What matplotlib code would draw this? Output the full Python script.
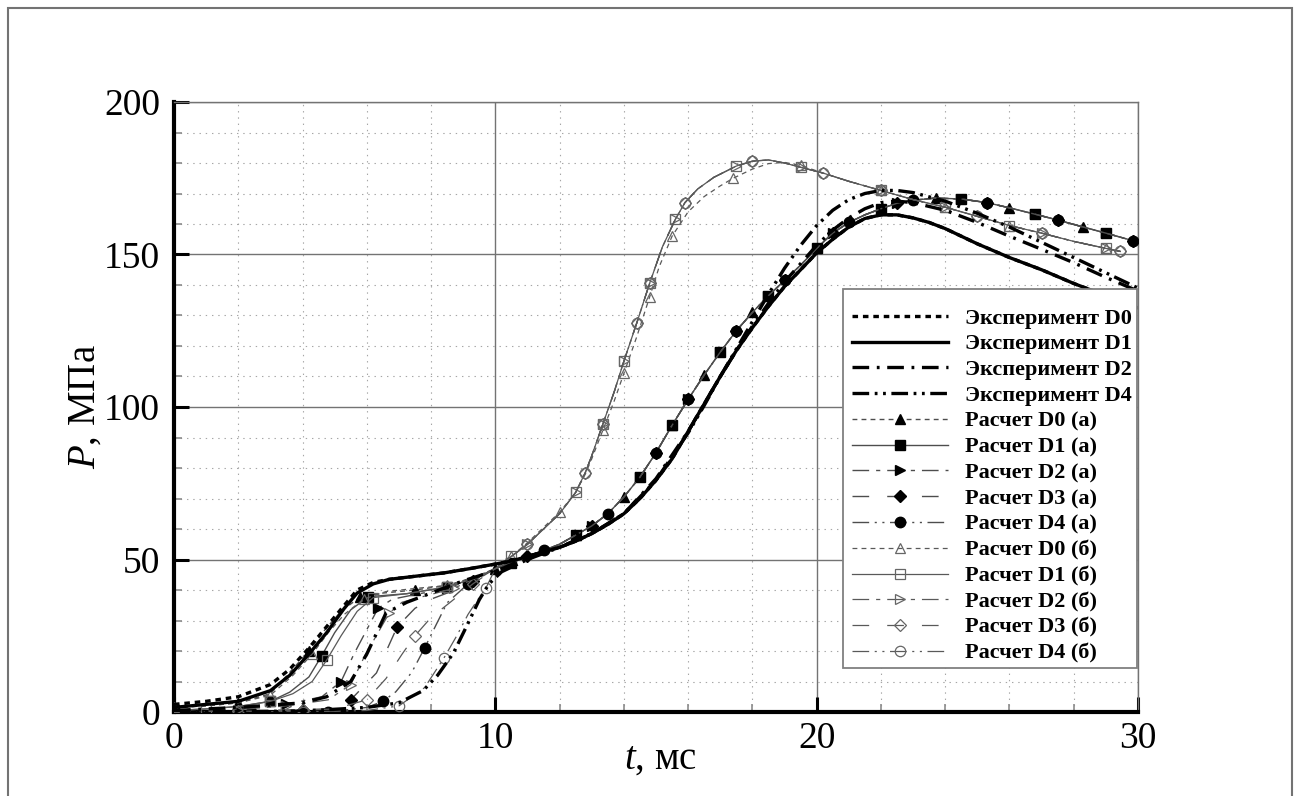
import matplotlib
matplotlib.use("Agg")
import matplotlib.pyplot as plt
from matplotlib.patches import Rectangle
from matplotlib.ticker import MultipleLocator

plt.rcParams['font.family'] = ['Liberation Serif', 'DejaVu Serif']
plt.rcParams['mathtext.fontset'] = 'custom'
plt.rcParams['mathtext.rm'] = 'Liberation Serif'
plt.rcParams['mathtext.it'] = 'Liberation Serif:italic'
plt.rcParams['lines.scale_dashes'] = False

# ---------------- experiment: ignition phase (t, ms ; P, MPa) ----------------
exp_d0_t_early = [0, 1, 2, 3, 3.6, 4.2, 4.75, 5.3, 5.7, 6.2, 6.7, 7.5, 8.4, 9.2]
exp_d0_p_early = [2.5, 3.5, 5.0, 9.0, 14.0, 21.0, 28.0, 35.0, 40.0, 42.5, 43.5, 44.5, 45.6, 47.0]
exp_d1_t_early = [0, 1, 2, 3, 3.6, 4.2, 4.75, 5.3, 5.7, 6.2, 6.7, 7.5, 8.4, 9.2]
exp_d1_p_early = [1.5, 2.5, 3.5, 7.0, 12.0, 19.0, 26.0, 34.0, 39.0, 42.0, 43.5, 44.5, 45.6, 47.0]
exp_d2_t_early = [0, 2, 4, 4.75, 5.5, 6.0, 6.6, 7.25, 8.0, 9.0]
exp_d2_p_early = [0.5, 1.5, 3.0, 5.0, 10.0, 19.0, 32.5, 36.0, 39.0, 43.0]
exp_d4_t_early = [0, 4, 6, 7, 7.75, 8.2, 8.7, 9.1, 9.5, 9.8]
exp_d4_p_early = [0, 0.3, 1.5, 3.0, 7.0, 12.0, 19.4, 28.0, 36.8, 42.0]

# ---------------- experiment: main combustion phase ----------------
exp_d01_t_late = [10.0, 10.5, 11, 11.5, 12, 12.5, 13, 13.5, 14, 14.5, 15, 15.5, 16, 16.5, 17,
                  17.5, 18, 18.5, 19, 19.5, 20, 20.5, 21, 21.5, 22, 22.5, 23, 23.5, 24, 25,
                  26, 27, 28, 29, 30]
exp_d01_p_late = [48.5, 49.5, 51, 52.5, 54, 56, 58.5, 61.5, 65, 70, 76, 83, 92, 101, 110,
                  118.5, 126, 133, 139.5, 145, 150.5, 155, 159, 161.8, 163, 163, 162, 160.5,
                  158.5, 153.5, 149, 145, 140.5, 136.5, 132.5]
exp_d2_t_late = [10.2, 11, 12, 13, 14, 15, 16, 16.5, 17, 17.5, 18, 18.5, 19, 19.5, 20, 20.5,
                 21, 21.5, 22, 22.5, 23, 24, 25, 26, 27, 28, 29, 30]
exp_d2_p_late = [47, 50.5, 54, 58.5, 65, 76.5, 92, 101, 110, 118.5, 126.5, 134, 141, 147, 153,
                 158, 162, 165, 167, 167.5, 167, 164.5, 160.5, 156, 151.7, 147.3, 142.5, 138]
exp_d4_t_late = [10.2, 11, 12, 13, 14, 15, 16, 16.5, 17, 17.5, 18, 18.5, 19, 19.5, 20, 20.5,
                 21, 21.5, 22, 22.5, 23, 24, 25, 26, 27, 28, 29, 30]
exp_d4_p_late = [46, 50, 54, 58.5, 65, 76, 91.5, 100.5, 110, 119, 128, 137, 145.5, 153, 159.5,
                 164.5, 168, 170, 171, 171, 170.3, 167.5, 163.5, 159, 154, 149, 144, 139]

# ---------------- calculation (а): ignition phase ----------------
d0a_t = [0, 1, 2, 3, 3.6, 4.2, 4.7, 5.2, 5.8, 6.5, 7.5, 8.5, 9.3]
d0a_p = [1.5, 2.0, 3.0, 6.0, 13.0, 20.0, 27.0, 33.0, 37.8, 39.0, 40.0, 41.5, 44.0]
d1a_t = [0, 1, 2, 3, 3.6, 4.2, 4.6, 5.0, 5.5, 6.05, 7.25, 8.5, 9.4]
d1a_p = [0.5, 1.0, 1.8, 3.5, 6.5, 11.5, 18.5, 26.0, 33.5, 37.8, 38.8, 41.0, 44.0]
d2a_t = [0, 2, 3.5, 4.6, 5.2, 5.6, 6.0, 6.35, 6.8, 7.5, 8.5, 9.4]
d2a_p = [0.3, 1.0, 2.5, 5.0, 10.0, 19.0, 27.0, 34.0, 37.0, 38.5, 40.5, 44.0]
d3a_t = [0, 2, 4, 4.8, 5.5, 6.3, 6.95, 7.5, 8.0, 8.5, 9.3]
d3a_p = [0, 0.3, 0.8, 1.0, 4.0, 12.8, 28.0, 34.0, 37.0, 39.0, 43.0]
d4a_t = [0, 2.4, 4.8, 6.0, 6.5, 6.9, 7.4, 7.8, 8.2, 8.5, 9.15, 9.6]
d4a_p = [0, 0, 0, 1.5, 3.5, 6.6, 13.0, 21.0, 29.5, 35.8, 42.0, 44.5]

# calculation (а): common main phase
a_t_late = [10.0, 10.5, 11.0, 11.5, 12.0, 12.5, 13.0, 13.5, 14.0, 14.5, 15.0, 15.5, 16.0,
            16.5, 17.0, 17.5, 18.0, 18.5, 19.0, 19.5, 20.0, 20.5, 21.0, 21.5, 22.0, 22.5,
            23.0, 23.7, 24.5, 25.3, 26.0, 26.8, 27.5, 28.3, 29.0, 29.85]
a_p_late = [47.0, 49.0, 51.0, 53.0, 55.0, 58.0, 61.0, 65.0, 70.5, 77.0, 85.0, 94.0, 102.5,
            110.5, 118.0, 125.0, 131.0, 136.5, 141.5, 146.5, 152.0, 157.0, 160.5, 163.0,
            165.0, 166.8, 167.8, 168.5, 168.2, 167.0, 165.3, 163.2, 161.3, 159.0, 157.0, 154.5]

# ---------------- calculation (б): ignition phase ----------------
d0b_t = [0, 1, 2, 3, 3.7, 4.3, 4.8, 5.3, 5.9, 6.6, 7.5, 8.5, 9.3]
d0b_p = [1.5, 2.0, 3.0, 5.5, 12.0, 19.0, 26.0, 32.0, 37.0, 39.5, 40.5, 41.5, 44.0]
d1b_t = [0, 1, 2, 3, 3.7, 4.3, 4.75, 5.2, 5.7, 6.2, 7.25, 8.5, 9.4]
d1b_p = [0.5, 1.0, 1.8, 3.5, 6.0, 10.0, 17.0, 25.0, 33.0, 37.5, 38.8, 41.0, 44.0]
d2b_t = [0, 2, 3.5, 4.8, 5.5, 5.95, 6.35, 6.7, 7.1, 7.8, 8.7, 9.4]
d2b_p = [0.2, 0.8, 2.0, 4.0, 9.0, 18.7, 26.0, 32.5, 36.0, 38.0, 40.5, 44.0]
d3b_t = [0, 2, 4, 5, 6, 6.6, 7.1, 7.5, 8.0, 8.6, 9.3]
d3b_p = [0, 0.2, 0.6, 1.0, 4.0, 11.0, 19.0, 25.0, 31.0, 36.0, 42.0]
d4b_t = [0, 4, 6, 7, 7.8, 8.4, 8.8, 9.15, 9.4, 9.7]
d4b_p = [0, 0, 0.5, 2.0, 8.0, 17.7, 25.0, 32.0, 36.0, 40.5]

# calculation (б): common main phase
b_t_late = [10.0, 10.5, 11.0, 11.5, 12.0, 12.5, 12.8, 13.0, 13.35, 13.7, 14.0, 14.4, 14.8,
            15.2, 15.6, 15.9, 16.3, 16.8, 17.5, 18.0, 18.5, 19.0, 19.5, 20.2, 21.0, 22.0,
            23.0, 24.0, 25.0, 26.0, 27.0, 28.0, 29.0, 29.45]
b_p_late = [47.0, 51.0, 55.0, 60.0, 65.0, 72.0, 78.5, 84.0, 94.5, 105.0, 115.0, 127.5, 140.5,
            152.5, 161.5, 167.0, 171.5, 175.3, 179.0, 180.6, 181.0, 180.0, 178.6, 176.7,
            174.0, 171.0, 168.0, 165.5, 162.5, 159.5, 157.0, 154.3, 152.0, 151.0]
# D0 (б) lags slightly on the way to the peak
d0b_t_late = [10.0, 10.5, 11.0, 11.5, 12.0, 12.5, 12.8, 13.0, 13.35, 13.7, 14.0, 14.4, 14.8,
              15.1, 15.5, 16.0, 16.5, 17.0, 17.4, 18.0, 18.5, 19.0, 19.5, 20.2, 21.0, 22.0,
              23.0, 24.0, 25.0, 26.0, 27.0, 28.0, 29.0, 29.45]
d0b_p_late = [47.0, 51.0, 55.5, 60.5, 65.5, 72.0, 78.0, 83.0, 92.5, 102.0, 111.0, 123.0,
              136.0, 146.0, 156.0, 164.0, 169.0, 172.5, 175.0, 178.0, 179.8, 180.2, 179.2,
              176.7, 174.0, 171.0, 168.0, 165.5, 162.5, 159.5, 157.0, 154.3, 152.0, 151.0]

legend_labels = ['Эксперимент D0', 'Эксперимент D1', 'Эксперимент D2', 'Эксперимент D4',
                 'Расчет D0 (а)', 'Расчет D1 (а)', 'Расчет D2 (а)', 'Расчет D3 (а)', 'Расчет D4 (а)',
                 'Расчет D0 (б)', 'Расчет D1 (б)', 'Расчет D2 (б)', 'Расчет D3 (б)', 'Расчет D4 (б)']

# ---------------- styles ----------------
EXP_STYLES = [(0, (4.0, 3.5)), '-', (0, (12, 5.5, 2, 5.5)), (0, (12, 4, 2, 4, 2, 4))]
CALC_STYLES = [(0, (3.5, 3)), '-', (0, (12, 5, 3, 5)), (0, (12, 13)), (0, (12, 4, 1.5, 4, 1.5, 4))]
MARKERS = ['^', 's', '>', 'D', 'o']
MSIZES = [7.5, 6.5, 7.5, 5.8, 7.5]

fig = plt.figure(figsize=(12.99, 7.96), dpi=100)
ax = fig.add_axes([174 / 1299, 84 / 796, 964 / 1299, 610 / 796])

handles = []

# experiment
exp_series = [
    (exp_d0_t_early + exp_d01_t_late, exp_d0_p_early + exp_d01_p_late),
    (exp_d1_t_early + exp_d01_t_late, exp_d1_p_early + exp_d01_p_late),
    (exp_d2_t_early + exp_d2_t_late, exp_d2_p_early + exp_d2_p_late),
    (exp_d4_t_early + exp_d4_t_late, exp_d4_p_early + exp_d4_p_late),
]
for i, (t, p) in enumerate(exp_series):
    ln, = ax.plot(t, p, color='black', lw=2.4, linestyle=EXP_STYLES[i], zorder=4,
                  label=legend_labels[i])
    handles.append(ln)

# calculation (а)
calc_a = [(d0a_t, d0a_p), (d1a_t, d1a_p), (d2a_t, d2a_p), (d3a_t, d3a_p), (d4a_t, d4a_p)]
for i, (t, p) in enumerate(calc_a):
    ln, = ax.plot(t + a_t_late, p + a_p_late, color='0.3', lw=1.0, linestyle=CALC_STYLES[i],
                  marker=MARKERS[i], ms=MSIZES[i], mfc='black', mec='black',
                  markevery=(0.013 * i, 0.066), zorder=3, label=legend_labels[4 + i])
    handles.append(ln)

# calculation (б)
calc_b = [(d0b_t + d0b_t_late, d0b_p + d0b_p_late),
          (d1b_t + b_t_late, d1b_p + b_p_late),
          (d2b_t + b_t_late, d2b_p + b_p_late),
          (d3b_t + b_t_late, d3b_p + b_p_late),
          (d4b_t + b_t_late, d4b_p + b_p_late)]
for i, (t, p) in enumerate(calc_b):
    ln, = ax.plot(t, p, color='0.35', lw=0.9, linestyle=CALC_STYLES[i],
                  marker=MARKERS[i], ms=MSIZES[i], mfc='none', mec='0.4', mew=0.9,
                  markevery=(0.006 + 0.013 * i, 0.066), zorder=3, label=legend_labels[9 + i])
    handles.append(ln)

# ---------------- axes ----------------
ax.set_xlim(0, 30)
ax.set_ylim(0, 200)
ax.xaxis.set_major_locator(MultipleLocator(10))
ax.xaxis.set_minor_locator(MultipleLocator(2))
ax.yaxis.set_major_locator(MultipleLocator(50))
ax.yaxis.set_minor_locator(MultipleLocator(10))

ax.grid(which='major', color='0.45', lw=1.0, linestyle='-', zorder=0)
ax.grid(which='minor', color='0.65', lw=0.8, linestyle=(0, (1, 3.5)), zorder=0)
ax.set_axisbelow(True)

for side in ['left', 'bottom']:
    ax.spines[side].set_linewidth(3.0)
    ax.spines[side].set_color('black')
for side in ['top', 'right']:
    ax.spines[side].set_linewidth(1.0)
    ax.spines[side].set_color('0.45')

ax.tick_params(which='major', direction='in', length=11, width=2.2, color='black',
               labelsize=27, top=False, right=False)
ax.tick_params(axis='y', which='major', pad=10)
ax.tick_params(axis='x', which='major', pad=7)
ax.tick_params(which='minor', direction='in', length=5.5, width=1.2, color='0.55',
               top=False, right=False)

ax.set_xlabel('$t$, мс', fontsize=28)
ax.set_ylabel('$P$, МПа', fontsize=28)
ax.xaxis.set_label_coords(0.505, -0.047)
ax.yaxis.set_label_coords(-0.073, 0.5)

# ---------------- legend ----------------
box = Rectangle(((843 - 174) / 964, (712 - 668) / 610), (1137 - 843) / 964, (668 - 289) / 610,
                transform=ax.transAxes, facecolor='white', edgecolor='0.5', lw=1.3, zorder=10)
ax.add_patch(box)
leg = ax.legend(handles=handles, loc='upper left',
                bbox_to_anchor=((852 - 174) / 964, (712 - 308) / 610),
                frameon=False, borderpad=0, borderaxespad=0, handlelength=4.3,
                handletextpad=0.8, labelspacing=0.235,
                prop={'family': 'Liberation Serif', 'weight': 'bold', 'size': 16})
leg.set_zorder(11)

# outer frame of the figure
fig.add_artist(Rectangle((8 / 1299, -0.01), (1292 - 8) / 1299, 1 - 8 / 796 + 0.01,
                         transform=fig.transFigure, fill=False, edgecolor='0.45', lw=1.5))

fig.savefig('out.png', dpi=100)
